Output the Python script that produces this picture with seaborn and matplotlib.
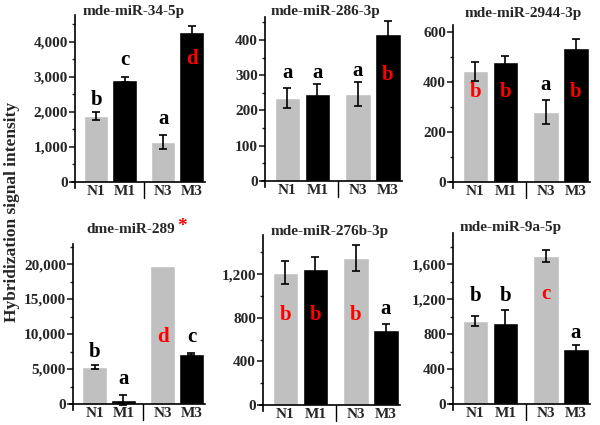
import seaborn as sns
import matplotlib.pyplot as plt
import pandas as pd
import numpy as np
from matplotlib.ticker import MultipleLocator, StrMethodFormatter

sns.set_style('ticks')
plt.rcParams['font.family'] = ['Liberation Serif', 'DejaVu Serif']
plt.rcParams['font.weight'] = 'bold'

samples = ['N1', 'M1', 'N3', 'M3']
groups = ['N', 'M', 'N', 'M']
positions = [0, 1, 2.35, 3.35]

titles = ['mde-miR-34-5p', 'mde-miR-286-3p', 'mde-miR-2944-3p',
          'dme-miR-289', 'mde-miR-276b-3p', 'mde-miR-9a-5p']

values = [
    [1880, 2920, 1145, 4290],
    [235, 247, 247, 418],
    [444, 480, 280, 536],
    [5290, 570, 19700, 7140],
    [1212, 1248, 1350, 688],
    [952, 928, 1695, 630],
]
errors = [
    [110, 70, 190, 165],
    [28, 27, 33, 35],
    [38, 25, 48, 36],
    [250, 700, 0, 150],
    [105, 110, 120, 55],
    [58, 150, 70, 48],
]
letters = [
    ['b', 'c', 'a', 'd'],
    ['a', 'a', 'a', 'b'],
    ['b', 'b', 'a', 'b'],
    ['b', 'a', 'd', 'c'],
    ['b', 'b', 'b', 'a'],
    ['b', 'b', 'c', 'a'],
]
letter_y = [
    [2200, 3340, 1660, 3370],
    [292, 292, 298, 285],
    [340, 340, 368, 340],
    [6700, 2860, 8850, 8850],
    [780, 780, 780, 835],
    [1180, 1180, 1203, 757],
]
letter_red = [
    [False, False, False, True],
    [False, False, False, True],
    [True, True, False, True],
    [False, False, True, False],
    [True, True, True, False],
    [False, False, True, False],
]
y_major = [1000, 100, 200, 5000, 400, 400]
y_top = [4770, 465, 628, 22860, 1560, 1960]

# panel boxes in pixels: spine x, right edge, top, zero line
boxes = [
    (75, 205, 15, 182),
    (265, 402, 17, 181),
    (453, 590, 25, 182),
    (73, 205, 244, 404),
    (263, 400, 235, 405),
    (453, 590, 233, 404),
]

gray = '#C0C0C0'
W, H = 600, 425
fig = plt.figure(figsize=(6, 4.25), dpi=100)

for i in range(6):
    sx, rx, top, zero = boxes[i]
    bottom = zero + 6
    left = sx - 3
    ax = fig.add_axes([left / W, 1 - bottom / H, (rx - left) / W, (bottom - top) / H])
    df = pd.DataFrame({'pos': positions, 'value': values[i], 'group': groups})
    sns.barplot(data=df, x='pos', y='value', hue='group', native_scale=True,
                palette={'N': gray, 'M': 'black'}, errorbar=None, dodge=False,
                width=0.86, saturation=1, legend=False, ax=ax)
    err = np.array(errors[i], dtype=float)
    m = err > 0
    ax.errorbar(np.array(positions)[m], np.array(values[i])[m], yerr=err[m], fmt='none',
                ecolor='black', elinewidth=1.2, capsize=3, capthick=1.2, zorder=5)

    px_per_val = (zero - top) / y_top[i]
    ax.set_ylim(-6 / px_per_val, y_top[i])
    ax.set_xlim(-0.85, 3.82)
    ax.spines['top'].set_visible(False)
    ax.spines['right'].set_visible(False)
    ax.spines['bottom'].set_position(('data', 0))
    ax.spines['left'].set_position(('data', -0.75))
    for s in ['left', 'bottom']:
        ax.spines[s].set_linewidth(1.2)
        ax.spines[s].set_color('black')

    ax.yaxis.set_major_locator(MultipleLocator(y_major[i]))
    ax.yaxis.set_minor_locator(MultipleLocator(y_major[i] / 2))
    ax.yaxis.set_major_formatter(StrMethodFormatter('{x:,.0f}'))
    ax.tick_params(axis='y', which='major', direction='out', length=4, width=1.2,
                   labelsize=11, pad=1, left=True)
    ax.tick_params(axis='y', which='minor', direction='out', length=2, width=1, left=True)
    ax.set_xticks(positions, samples)
    ax.tick_params(axis='x', length=0, labelsize=11, pad=2)
    for lab in ax.get_xticklabels() + ax.get_yticklabels():
        lab.set_fontweight('bold')
    ax.set_xlabel('')
    ax.set_ylabel('')

    h = bottom - top
    ax.axvline(1.675, ymin=(6 - 16) / h, ymax=6 / h, color='black', lw=1, clip_on=False)

    for p, t, yy, red in zip(positions, letters[i], letter_y[i], letter_red[i]):
        ax.text(p, yy, t, ha='center', va='baseline', fontsize=15, fontweight='bold',
                color='red' if red else 'black', zorder=6)

title_pos = [(134, 11), (325, 11), (523, 13), (131, 230), (330, 232), (511, 228)]
for i, (tx, ty) in enumerate(title_pos):
    fig.text(tx / W, 1 - ty / H, titles[i], ha='center', va='center',
             fontsize=11, fontweight='bold')
fig.text(182 / W, 1 - 227 / H, '*', ha='center', va='center', fontsize=14,
         fontweight='bold', color='red')

fig.text(12 / W, 1 - 212 / H, 'Hybridization signal intensity', rotation=90,
         ha='center', va='center', fontsize=12.5, fontweight='bold')

fig.savefig('out.png', dpi=100)
